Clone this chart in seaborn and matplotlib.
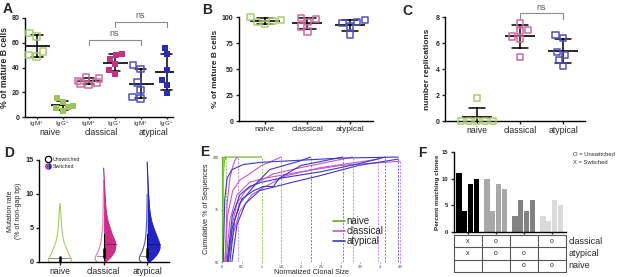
import matplotlib
matplotlib.use("Agg")
import matplotlib.pyplot as plt
import matplotlib.transforms as mtrans
from matplotlib.lines import Line2D
from matplotlib.legend_handler import HandlerTuple
import numpy as np
import pandas as pd
import seaborn as sns

sns.set_style("ticks")
plt.rcParams["font.family"] = ["Liberation Sans", "DejaVu Sans"]
plt.rcParams["mathtext.fontset"] = "custom"
plt.rcParams["mathtext.rm"] = "Liberation Sans"
plt.rcParams["axes.linewidth"] = 1.0

W, H = 617, 277

# colours
GREEN_O, GREEN_F = "#a8cc6c", "#9cc45a"
PINK_O, PINK_F = "#d0689f", "#c4337f"
BLUE_O, BLUE_F = "#4f4fc2", "#2b2bb0"

# ---- A: % of mature B cells by subset / isotype ----
a_cats = ["nIgM", "nIgG", "cIgM", "cIgG", "aIgM", "aIgG"]
a_naive_igm = [68, 65, 53, 50, 49]
a_naive_igg = [15, 12, 9, 7, 5, 8]
a_classical_igm = [32, 31, 29, 28, 27, 26]
a_classical_igg = [51, 50, 47, 43, 38, 35]
a_atypical_igm = [42, 39, 28, 22, 16, 15]
a_atypical_igg = [56, 51, 38, 30, 26, 19]

# ---- B: % of mature B cells ----
b_cats = ["naive", "classical", "atypical"]
b_naive = [100, 97, 96, 95, 93]
b_classical = [99, 98, 95, 91, 86]
b_atypical = [97, 95, 94, 91, 83]

# ---- C: number of replications ----
c_naive = [1.8, 0, 0, 0, 0, 0]
c_classical = [7.5, 7.0, 6.9, 6.5, 6.3, 4.9]
c_atypical = [6.6, 6.4, 5.3, 5.1, 4.7, 4.2]

# ---- D: mutation rate density profiles (half widths) ----
d_naive_y = [0, 0.25, 0.5, 1, 1.5, 2, 3, 4, 5, 6, 7, 8, 8.6]
d_naive_w = [0.24, 0.27, 0.26, 0.22, 0.18, 0.15, 0.09, 0.06, 0.04, 0.03, 0.02, 0.01, 0]
d_cls_sw_y = [0, 0.5, 1, 1.5, 2, 2.5, 3, 4, 5, 6, 7, 8, 10, 12, 13.8]
d_cls_sw_w = [0.04, 0.13, 0.2, 0.25, 0.27, 0.28, 0.27, 0.2, 0.15, 0.1, 0.07, 0.05, 0.03, 0.015, 0]
d_cls_un_y = [0, 0.3, 0.7, 1, 1.5, 2, 3, 4, 5, 6, 8, 10, 12]
d_cls_un_w = [0.15, 0.19, 0.19, 0.17, 0.13, 0.1, 0.06, 0.04, 0.02, 0.015, 0.01, 0.005, 0]
d_aty_sw_y = [0, 0.5, 1, 1.5, 2, 2.5, 3, 4, 5, 6, 7, 8, 10, 12, 14.7]
d_aty_sw_w = [0.05, 0.14, 0.21, 0.26, 0.29, 0.29, 0.27, 0.21, 0.15, 0.1, 0.07, 0.05, 0.03, 0.015, 0]
d_aty_un_y = [0, 0.3, 0.7, 1, 1.5, 2, 3, 4, 5, 6, 8, 10]
d_aty_un_w = [0.14, 0.18, 0.18, 0.16, 0.12, 0.09, 0.05, 0.03, 0.02, 0.012, 0.006, 0]
d_medians_un = [0.55, 0.95, 0.9]
d_medians_sw = [2.7, 2.7]

# ---- E: cumulative clone size curves ----
e_naive_x = [[0.0, 0.0, 0.03, 0.08, 1.0], [0.02, 0.03, 0.06, 0.1], [0.0, 0.005, 0.01, 0.03]]
e_naive_y = [[50, 92, 99, 100, 100], [50, 90, 98, 100], [50, 97, 99.5, 100]]
e_cls_x = [[0.08, 0.13, 0.2, 0.28, 0.34, 0.4],
           [0.07, 0.14, 0.27, 0.45, 0.7, 1.0, 1.5],
           [0.13, 0.26, 0.38, 0.6, 0.9, 1.3, 2.0, 3.3],
           [0.16, 0.26, 0.45, 0.75, 1.1, 1.6, 2.5, 3.95],
           [0.1, 0.2, 0.38, 0.7, 1.1, 2.0, 3.0, 4.5]]
e_cls_y = [[50, 78, 90, 96, 99, 100],
           [50, 72, 84, 89, 92, 96, 100],
           [50, 68, 78, 84, 88, 92, 95, 100],
           [50, 62, 74, 82, 86, 91, 95, 99],
           [50, 70, 82, 88, 90, 93, 96, 98]]
e_aty_x = [[0.15, 0.26, 0.45, 0.8, 1.2, 1.95, 2.24],
           [0.2, 0.32, 0.5, 0.8, 1.05, 1.3, 1.45, 2.0, 3.05],
           [0.13, 0.26, 0.45, 0.7, 1.0, 1.5, 2.5, 3.5, 4.13],
           [0.25, 0.38, 0.6, 0.95, 1.78, 2.45, 3.45, 4.45],
           [0.03, 0.07, 0.13, 0.25, 0.55, 1.0, 2.0, 3.0, 4.45]]
e_aty_y = [[50, 66, 78, 86, 94, 98, 100],
           [50, 70, 80, 84, 86, 86, 90, 96, 100],
           [50, 72, 82, 86, 88, 90, 93, 97, 100],
           [50, 68, 78, 84, 88, 91, 96, 99],
           [50, 80, 90, 94, 96.5, 97.5, 98.5, 99.5, 100]]

# ---- F: percent matching clones ----
f_groups = ["g1", "g2", "g3", "g4"]
f_g1 = [11, 4, 9, 10]
f_g2 = [10, 4, 9, 8]
f_g3 = [3, 6, 4, 6]
f_g4 = [3, 2, 6, 5]
f_colors = ["#000000", "#a8a8a8", "#828282", "#dadada"]
f_rows = ["classical", "atypical", "naive"]
f_table = [["x", "o", "", "o"], ["x", "o", "o", ""], ["", "", "o", "o"]]


def rect(l, t, r, b):
    return [l / W, 1 - b / H, (r - l) / W, (b - t) / H]


def prism(ax, ylab_size=5):
    sns.despine(ax=ax)
    for s in ("left", "bottom"):
        ax.spines[s].set_linewidth(1.0)
        ax.spines[s].set_color("black")
    ax.tick_params(axis="y", length=2.5, width=1, pad=1.5, labelsize=ylab_size)
    ax.tick_params(axis="x", length=2, width=1, pad=1.5)
    for lab in ax.get_yticklabels():
        lab.set_fontweight("bold")


def dot_panel(ax, cats, series, colors, filled, msize, capsize, mean_ms):
    rows = []
    for cat, vals in zip(cats, series):
        rows += [(cat, v) for v in vals]
    df = pd.DataFrame(rows, columns=["cat", "val"])
    for cat, col, fill in zip(cats, colors, filled):
        n_before = len(ax.collections)
        sns.swarmplot(data=df[df.cat == cat], x="cat", y="val", order=cats,
                      marker="s", size=msize, color=col, ax=ax)
        for pc in ax.collections[n_before:]:
            if fill:
                pc.set_facecolor(col)
                pc.set_edgecolor(col)
            else:
                pc.set_facecolor("none")
                pc.set_edgecolor(col)
                pc.set_linewidth(1.1)
            if len(pc.get_offsets()) > 0:
                pc.set_clip_on(False)
    sns.pointplot(data=df, x="cat", y="val", order=cats, errorbar="sd",
                  capsize=capsize, linestyle="none", marker="_",
                  markersize=mean_ms, markeredgewidth=1.2, color="black",
                  err_kws={"linewidth": 1.1}, ax=ax)


def bracket(ax, x1, x2, y, drop, ty):
    ax.plot([x1, x1, x2, x2], [y - drop, y, y, y - drop], color="#8a8a8a",
            lw=0.8, clip_on=False)
    ax.text((x1 + x2) / 2, ty, "ns", ha="center", va="bottom", fontsize=6.5,
            color="#555555")


fig = plt.figure(figsize=(W / 100, H / 100), dpi=100)

# ===== A =====
axA = fig.add_axes(rect(25, 18, 173, 117))
dot_panel(axA, a_cats,
          [a_naive_igm, a_naive_igg, a_classical_igm, a_classical_igg,
           a_atypical_igm, a_atypical_igg],
          [GREEN_O, GREEN_F, PINK_O, PINK_F, BLUE_O, BLUE_F],
          [False, True, False, True, False, True], 4.6, 0.45, 18)
axA.set_xlim(-0.45, 5.25)
axA.set_ylim(0, 80)
axA.set_yticks([0, 20, 40, 60, 80])
axA.set_xticks(range(6))
axA.set_xticklabels(["IgM$^{+}$", "IgG$^{+}$"] * 3, fontsize=4.5)
axA.set_xlabel("")
axA.set_ylabel("% of mature B cells", fontsize=6.3, fontweight="bold", labelpad=2)
prism(axA, 5)
axA.tick_params(axis="x", length=1.5, pad=0.5)
trA = mtrans.blended_transform_factory(axA.transData, axA.transAxes)
for x, name in zip([0.5, 2.5, 4.5], b_cats):
    axA.text(x, -0.16, name, transform=trA, ha="center", va="center", fontsize=6.3)
bracket(axA, 2, 4, 62.5, 4, 64)
bracket(axA, 3, 5, 77, 4, 78.5)

# ===== B =====
axB = fig.add_axes(rect(239, 17, 373, 121))
dot_panel(axB, b_cats, [b_naive, b_classical, b_atypical],
          [GREEN_O, PINK_O, BLUE_O], [False] * 3, 4.6, 0.38, 22)
axB.set_xlim(-0.61, 2.54)
axB.set_ylim(0, 100)
axB.set_yticks([0, 25, 50, 75, 100])
axB.set_xticks(range(3))
axB.set_xticklabels(b_cats, fontsize=6)
axB.set_xlabel("")
axB.set_ylabel("% of mature B cells", fontsize=6, fontweight="bold", labelpad=2)
prism(axB, 5)

# ===== C =====
axC = fig.add_axes(rect(445, 17, 585, 121))
dot_panel(axC, b_cats, [c_naive, c_classical, c_atypical],
          [GREEN_O, PINK_O, BLUE_O], [False] * 3, 4.4, 0.38, 22)
axC.set_xlim(-0.74, 2.51)
axC.set_ylim(0, 8)
axC.set_yticks([0, 2, 4, 6, 8])
axC.set_xticks(range(3))
axC.set_xticklabels(b_cats, fontsize=6.3)
axC.set_xlabel("")
axC.set_ylabel("number replications", fontsize=6, fontweight="bold", labelpad=3)
prism(axC, 5)
bracket(axC, 1, 2, 8.3, 0.45, 8.4)

# ===== D =====
axD = fig.add_axes(rect(39, 160, 169, 262))


def half(ax, pos, ys, ws, side, color, fill):
    ys = np.asarray(ys, float)
    ws = np.asarray(ws, float)
    xs = pos - ws if side == "left" else pos + ws
    if fill:
        ax.fill_betweenx(ys, pos, xs, color=color, lw=0)
    ax.plot(xs, ys, color=color, lw=0.8)
    ax.plot([pos, xs[0]], [ys[0], ys[0]], color=color, lw=0.8)


half(axD, 0, d_naive_y, d_naive_w, "left", GREEN_O, False)
half(axD, 0, d_naive_y, d_naive_w, "right", GREEN_O, False)
half(axD, 1, d_cls_un_y, d_cls_un_w, "left", "#e07ab3", False)
half(axD, 1, d_cls_sw_y, d_cls_sw_w, "right", "#cc2f86", True)
half(axD, 2, d_aty_un_y, d_aty_un_w, "left", "#5656cc", False)
half(axD, 2, d_aty_sw_y, d_aty_sw_w, "right", "#2424c4", True)
# medians
axD.plot([-0.24, 0.24], [d_medians_un[0]] * 2, color="#888888", lw=0.7)
axD.plot([0.84, 1.0], [d_medians_un[1]] * 2, color="#888888", lw=0.7)
axD.plot([1.84, 2.0], [d_medians_un[2]] * 2, color="#888888", lw=0.7)
axD.plot([1.0, 1.28], [d_medians_sw[0]] * 2, color="#7a1450", lw=0.6)
axD.plot([2.0, 2.29], [d_medians_sw[1]] * 2, color="#12127a", lw=0.6)
# quartile boxes
axD.plot([0, 0], [0.05, 0.95], color="black", lw=1.8, solid_capstyle="butt")
for p in (1, 2):
    axD.plot([p, p], [0.3, 4.1], color="black", lw=0.8)
    axD.plot([p, p], [0.6, 2.0], color="black", lw=1.8, solid_capstyle="butt")
axD.set_xlim(-0.48, 2.5)
axD.set_ylim(0, 15)
axD.set_yticks([0, 5, 10, 15])
axD.set_xticks(range(3))
axD.set_xticklabels(b_cats, fontsize=6.3)
axD.set_ylabel("Mutation rate\n(% of non-gap bp)", fontsize=5, labelpad=2)
prism(axD, 5.2)
h_open = Line2D([], [], marker="o", ls="none", mfc="white", mec="black", ms=4.5, mew=0.9)
h_left = Line2D([], [], marker="o", ls="none", fillstyle="left", mfc="#cc2f86",
                mfcalt="none", mec="none", ms=4.8)
h_right = Line2D([], [], marker="o", ls="none", fillstyle="right", mfc="#2424c4",
                 mfcalt="none", mec="none", ms=4.8)
axD.legend([h_open, (h_left, h_right)], ["Unswitched", "Switched"],
           handler_map={tuple: HandlerTuple(ndivide=1, pad=0)},
           loc="upper left", frameon=False, fontsize=3.8,
           bbox_to_anchor=(0.05, 1.03), handletextpad=0.3, handlelength=1.0,
           labelspacing=0.35, borderaxespad=0, borderpad=0)

# ===== E =====
axE = fig.add_axes(rect(222, 156, 402, 262))
E_C = {"naive": ("#5fb21e", "#8bd04a"), "classical": ("#c857c8", "#d080e8"),
       "atypical": ("#3838cc", "#7070e6")}
for name, xs_l, ys_l in [("naive", e_naive_x, e_naive_y),
                         ("classical", e_cls_x, e_cls_y),
                         ("atypical", e_aty_x, e_aty_y)]:
    col, dcol = E_C[name]
    for xs, ys in zip(xs_l, ys_l):
        sns.lineplot(x=xs, y=ys, estimator=None, sort=False, color=col,
                     lw=0.8, ax=axE)
        axE.plot([xs[-1], xs[-1]], [50, ys[-1]], color=dcol, lw=0.7, ls=(0, (2, 1.5)))
axE.set_xlim(0, 4.55)
axE.set_ylim(50, 100.5)
axE.set_xticks(np.arange(0, 4.6, 0.5))
axE.set_xticklabels(["0", "0.5", "1", "1.5", "2", "2.5", "3", "3.5", "4", "4.5"])
axE.set_yticks([50, 75, 100])
axE.tick_params(labelsize=2.6, length=1, width=0.4, pad=1)
for s in axE.spines.values():
    s.set_visible(False)
axE.set_xlabel("Normalized Clonal Size", fontsize=5.2, labelpad=0.5)
axE.set_ylabel("Cumulative % of Sequences", fontsize=5.2, labelpad=2)
hE = [Line2D([], [], color=E_C[k][0], lw=1.2) for k in ("naive", "classical", "atypical")]
axE.legend(hE, ["naive", "classical", "atypical"], loc="upper left",
           bbox_to_anchor=((333 - 222) / 180, (262 - 216) / 106), frameon=False,
           fontsize=7, handlelength=1.2, handletextpad=0.15, labelspacing=0.0,
           borderaxespad=0, borderpad=0)

# ===== F =====
axF = fig.add_axes(rect(454, 152, 566, 232))
f_rows_df = []
for g, vals in zip(f_groups, [f_g1, f_g2, f_g3, f_g4]):
    f_rows_df += [(g, i, v) for i, v in enumerate(vals)]
dfF = pd.DataFrame(f_rows_df, columns=["group", "rep", "val"])
sns.barplot(data=dfF, x="group", y="val", hue="rep", order=f_groups,
            dodge=True, width=0.84, errorbar=None, legend=False,
            palette=["#000000"] * 4, ax=axF)
for p in axF.patches:
    gi = int(round(p.get_x() + p.get_width() / 2))
    p.set_facecolor(f_colors[gi])
    p.set_edgecolor("none")
    p.set_width(0.19)
axF.set_xlim(-0.5, 3.5)
axF.set_ylim(0, 15)
axF.set_yticks([0, 5, 10, 15])
axF.set_xticks(range(4))
axF.set_xticklabels([])
axF.set_xlabel("")
axF.set_ylabel("Percent matching clones", fontsize=4.6, fontweight="bold", labelpad=1.5)
prism(axF, 4.2)
axF.tick_params(axis="x", length=1.5)

axT = fig.add_axes(rect(454, 235, 566, 272))
axT.set_xlim(-0.5, 3.5)
axT.set_ylim(0, 3)
axT.axis("off")
for yy in range(4):
    axT.plot([-0.5, 3.5], [yy, yy], color="#555555", lw=0.8, clip_on=False)
for xx in np.arange(-0.5, 3.6, 1):
    axT.plot([xx, xx], [0, 3], color="#555555", lw=0.8, clip_on=False)
for ri, (rname, cells) in enumerate(zip(f_rows, f_table)):
    yc = 2.5 - ri
    for ci, t in enumerate(cells):
        axT.text(ci, yc, t, ha="center", va="center", fontsize=5)
    axT.text(3.6, yc, rname, ha="left", va="center", fontsize=6.5)

fig.text(573 / W, 1 - 154 / H, "O = Unswitched", fontsize=4.2, va="center")
fig.text(573 / W, 1 - 163 / H, "X = Switched", fontsize=4.2, va="center")

# panel letters
for letter, x, y in [("A", 3, 2), ("B", 202, 3), ("C", 402, 4),
                     ("D", 4, 146), ("E", 200, 145), ("F", 418, 146)]:
    fig.text(x / W, 1 - y / H, letter, fontsize=10, fontweight="bold", va="top")

fig.savefig("out.png", dpi=100)
